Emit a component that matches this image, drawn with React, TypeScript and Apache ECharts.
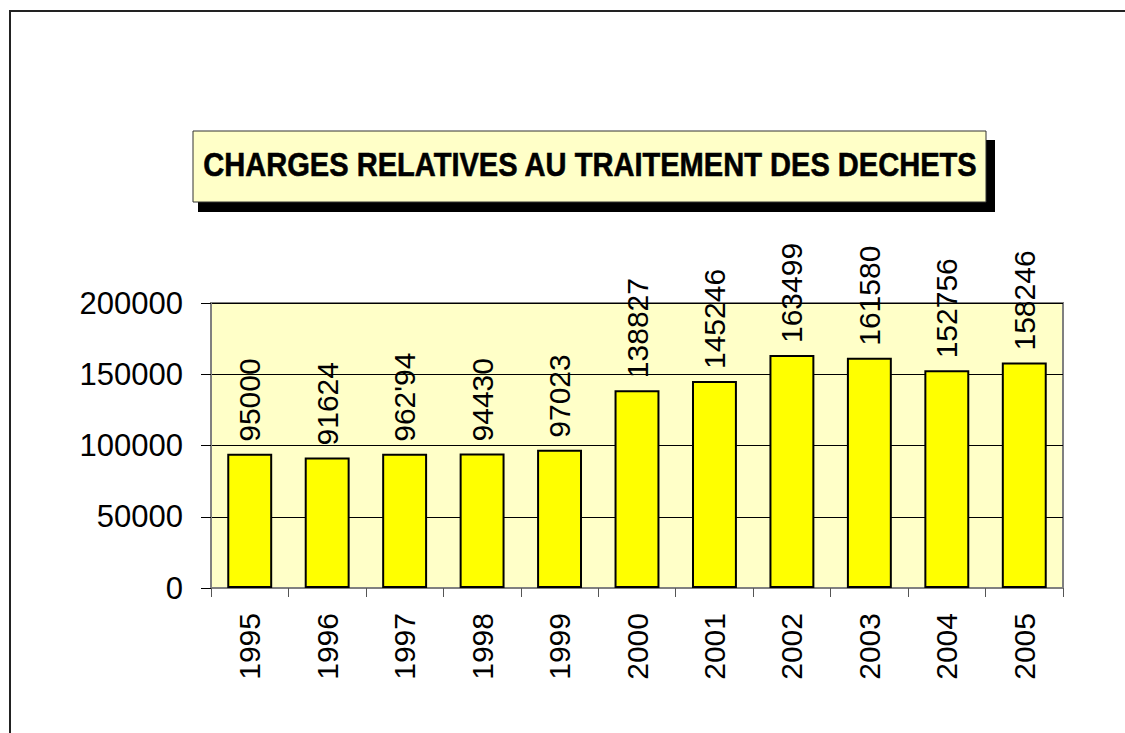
import React, { useEffect, useRef } from "react";
import * as echarts from "echarts";

const years = ["1995", "1996", "1997", "1998", "1999", "2000", "2001", "2002", "2003", "2004", "2005"];
const charges = [94200, 91624, 94200, 94430, 97023, 138827, 145246, 163499, 161580, 152756, 158246];
const labelTexts = ["95000", "91624", "962'94", "94430", "97023", "138827", "145246", "163499", "161580", "152756", "158246"];
const yTicks = { min: 0, max: 200000, interval: 50000 };
const titleText = "CHARGES RELATIVES AU TRAITEMENT DES DECHETS";

const FONT = "'Liberation Sans', Arial, sans-serif";

export default function App() {
  const ref = useRef<HTMLDivElement>(null);
  useEffect(() => {
    document.body.style.margin = "0";
    const chart = echarts.init(ref.current!, null, { renderer: "svg" });
    chart.setOption({
      animation: false,
      backgroundColor: "#ffffff",
      textStyle: { fontFamily: FONT, color: "#000" },
      grid: {
        left: 211,
        right: 62,
        top: 303,
        bottom: 145,
        show: true,
        backgroundColor: "#FFFFC8",
        borderColor: "#808080",
        borderWidth: 2,
      },
      xAxis: {
        type: "category",
        data: years,
        axisLine: { lineStyle: { color: "#808080", width: 2 } },
        axisTick: { show: true, length: 9, lineStyle: { color: "#555", width: 1 } },
        axisLabel: { rotate: 90, fontSize: 30, color: "#000", margin: 25, fontFamily: FONT },
      },
      yAxis: {
        type: "value",
        min: yTicks.min,
        max: yTicks.max,
        interval: yTicks.interval,
        axisLine: { show: true, lineStyle: { color: "#808080", width: 2 } },
        axisTick: { show: true, length: 10, lineStyle: { color: "#000", width: 1 } },
        axisLabel: {
          fontSize: 31,
          color: "#000",
          margin: 28,
          fontFamily: FONT,
          formatter: (v: number) => String(v),
        },
        splitLine: { show: true, lineStyle: { color: "#000", width: 1 } },
      },
      series: [
        {
          type: "bar",
          data: charges,
          barWidth: "58%",
          itemStyle: { color: "#FFFF00", borderColor: "#000", borderWidth: 2 },
          label: {
            show: true,
            position: "top",
            rotate: 90,
            align: "left",
            verticalAlign: "middle",
            distance: 12,
            fontSize: 30,
            color: "#000",
            fontFamily: FONT,
            formatter: (p: any) => labelTexts[p.dataIndex],
          },
        },
      ],
      graphic: [
        {
          type: "rect",
          shape: { x: 10, y: 11, width: 1200, height: 800 },
          style: { fill: "none", stroke: "#222", lineWidth: 2 },
          z: -10,
          silent: true,
        },
        {
          type: "rect",
          shape: { x: 198, y: 140, width: 797, height: 72 },
          style: { fill: "#000" },
          z: 10,
        },
        {
          type: "rect",
          shape: { x: 193, y: 131, width: 793, height: 71 },
          style: { fill: "#FFFFC8", stroke: "#333", lineWidth: 1 },
          z: 11,
        },
        {
          type: "text",
          x: 590,
          y: 164,
          scaleX: 0.855,
          style: {
            text: titleText,
            fill: "#000",
            stroke: "#000",
            lineWidth: 0.6,
            font: "bold 34px " + FONT,
            align: "center",
            verticalAlign: "middle",
          },
          z: 12,
        },
      ],
    });
    return () => chart.dispose();
  }, []);
  return <div ref={ref} style={{ width: 1125, height: 733 }} />;
}
